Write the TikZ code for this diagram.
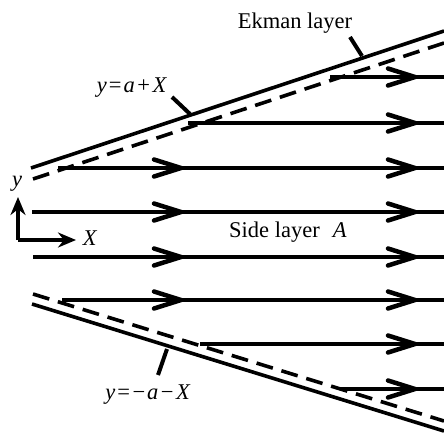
\documentclass[tikz,border=0pt]{standalone}
\usepackage{fontspec}
\setmainfont{Liberation Serif}
\usetikzlibrary{arrows.meta}
\begin{document}
\begin{tikzpicture}[x=1pt,y=-1pt,
  wall/.style={line width=3.6pt},
  edgeline/.style={line width=3.6pt,dash pattern=on 17pt off 9pt},
  flow/.style={line width=3.3pt},
  ptr/.style={line width=4pt},
  lbl/.style={font=\fontsize{22.5}{26}\selectfont,inner sep=0pt},
  chev/.pic={\draw[line width=4.5pt,line cap=round,line join=miter] (-27,-8.5) -- (0,0) -- (-27,8.5);},
  axis/.style={line width=4pt,-{Stealth[length=18pt,width=15pt]}}]
\useasboundingbox (0,0) rectangle (444,432);
% boundaries
\coordinate (us1) at (31,168); \coordinate (us2) at (444,31);
\coordinate (ud1) at (33,179); \coordinate (ud2) at (444,43);
\coordinate (ls1) at (32,304); \coordinate (ls2) at (444,431);
\coordinate (ld1) at (33,294); \coordinate (ld2) at (444,421);
\draw[wall] (us1) -- (us2);
\draw[edgeline] (ud1) -- (ud2);
\draw[wall] (ls1) -- (ls2);
\draw[edgeline] (ld1) -- (ld2);
% flow lines
\foreach \i/\y/\xs/\two in {1/77/330/0,2/123/188/0,3/168/58/1,4/212/32/1,5/257/33/1,6/300/62/1,7/344/200/0,8/389/340/0}{
  \coordinate (f\i a) at (\xs,\y);
  \coordinate (f\i b) at (444,\y);
  \draw[flow] (f\i a) -- (f\i b);
  \path (415,\y) pic {chev};
  \ifnum\two=1 \path (181,\y) pic {chev}; \fi
}
% axes
\coordinate (o) at (18,240);
\coordinate (oy) at (18,197);
\coordinate (ox) at (76,240);
\draw[axis] (o) -- (oy);
\draw[axis] (o) -- (ox);
\node[lbl] (ly) at (17,184) {\textit{y}};
\node[lbl] (lx) at (90,238) {\textit{X}};
% labels
\node[lbl] (ek) at (295,23) {Ekman layer};
\coordinate (ekp) at (362,56);
\draw[ptr] (350,37) -- (ekp);
\node[lbl] (up) at (132,88) {\textit{y}\kern2pt=\kern2pt\textit{a}\kern2.5pt+\kern2.5pt\textit{X}};
\coordinate (upp) at (190,114);
\draw[ptr] (172,97) -- (upp);
\node[lbl] (lo) at (148,395) {\textit{y}\kern2pt=\kern2.5pt−\kern2pt\textit{a}\kern2.5pt−\kern2.5pt\textit{X}};
\coordinate (lop) at (167,349);
\draw[ptr] (lop) -- (158,375);
\node[lbl] (side) at (288,232) {Side layer\,\, \textit{A}};
\end{tikzpicture}
\end{document}
